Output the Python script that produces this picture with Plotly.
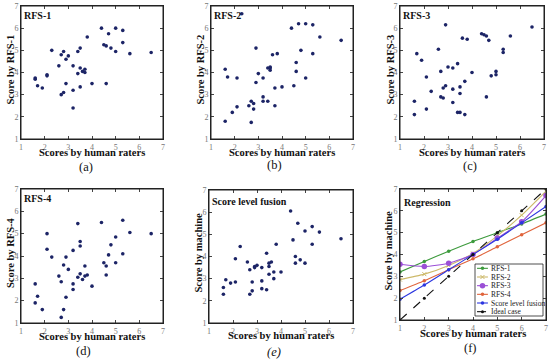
import plotly.graph_objects as go

# ---------------- data ----------------
human = [1.6, 1.6, 1.7, 1.9, 2.1, 2.1, 2.3, 2.6, 2.7, 2.7, 2.8, 2.8, 2.9, 2.9, 3.0,
         3.2, 3.2, 3.2, 3.4, 3.4, 3.5, 3.5, 3.5, 3.6, 3.7, 3.7, 3.8, 4.0, 4.4, 4.5,
         4.6, 4.6, 4.7, 4.8, 5.0, 5.0, 5.3, 5.3, 5.6, 6.5]
rfs1 = [3.7, 3.75, 3.4, 3.3, 3.9, 3.85, 5.0, 4.3, 4.8, 3.0, 4.95, 3.1, 4.6, 3.5, 4.75,
        4.3, 3.2, 2.4, 4.95, 3.95, 5.1, 4.2, 3.35, 4.05, 4.15, 4.0, 5.6, 3.5, 6.0, 5.25,
        5.2, 3.5, 5.75, 5.1, 6.0, 4.95, 5.9, 5.35, 4.85, 4.9]
rfs2 = [4.15, 1.8, 3.8, 2.2, 3.75, 2.45, 6.65, 2.5, 2.7, 1.75, 2.6, 2.35, 5.1, 3.55, 3.95,
        3.75, 2.9, 2.7, 4.2, 2.7, 4.25, 4.2, 4.1, 4.8, 3.3, 2.5, 4.85, 3.35, 6.0, 3.4,
        4.45, 4.05, 6.2, 5.0, 6.2, 3.75, 6.15, 4.85, 5.6, 5.45]
rfs3 = [2.7, 2.1, 4.85, 4.55, 3.8, 2.35, 3.15, 5.05, 4.05, 2.9, 3.3, 2.85, 6.15, 3.4, 4.25,
        4.2, 3.25, 2.65, 4.4, 2.2, 3.35, 3.05, 2.2, 5.55, 3.6, 2.1, 5.5, 4.0, 5.75, 5.7,
        5.65, 2.9, 5.45, 3.85, 4.05, 3.9, 5.05, 4.9, 5.65, 6.05]
rfs4 = [2.75, 1.9, 2.2, 1.6, 5.0, 4.3, 3.95, 3.1, 2.85, 1.25, 3.6, 1.6, 3.95, 2.15, 3.4,
        4.25, 2.75, 2.5, 5.45, 3.05, 4.65, 4.45, 3.2, 2.95, 3.55, 3.1, 3.15, 2.65, 5.5, 3.7,
        3.55, 3.15, 4.05, 4.5, 4.85, 3.7, 5.6, 4.1, 5.05, 5.0]
fusion = [2.6, 2.3, 2.95, 2.8, 3.9, 2.85, 4.45, 3.75, 3.4, 2.3, 2.85, 2.45, 3.55, 3.5, 3.6,
          3.5, 2.9, 2.55, 4.15, 2.5, 3.7, 3.55, 3.2, 3.75, 3.3, 3.0, 4.55, 3.3, 6.05, 4.75,
          4.0, 3.7, 5.5, 3.85, 5.15, 3.7, 5.35, 4.55, 5.1, 4.8]

levels = [1, 2, 3, 4, 5, 6, 7]
reg_rfs1 = [3.2, 3.68, 4.15, 4.6, 5.0, 5.4, 5.85]
reg_rfs2 = [2.85, 3.1, 3.5, 4.05, 4.85, 5.8, 6.9]
reg_rfs3 = [3.55, 3.45, 3.6, 4.0, 4.75, 5.5, 6.7]
reg_rfs4 = [2.35, 2.8, 3.3, 3.8, 4.35, 4.9, 5.45]
reg_fusion = [1.95, 2.6, 3.3, 4.0, 4.7, 5.45, 6.2]
ideal = [1, 2, 3, 4, 5, 6, 7]

tick_vals = [1, 2, 3, 4, 5, 6, 7]
panel_titles = ["RFS-1", "RFS-2", "RFS-3", "RFS-4", "Score level fusion", "Regression"]
y_titles = ["Score by RFS-1", "Score by RFS-2", "Score by RFS-3", "Score by RFS-4",
            "Score by machine", "Score by machine"]
x_title = "Scores by human raters"
captions = ["(a)", "(b)", "(c)", "(d)", "(e)", "(f)"]
reg_names = ["RFS-1", "RFS-2", "RFS-3", "RFS-4", "Score level fusion", "Ideal case"]

# ---------------- layout geometry (pixels) ----------------
W, H = 550, 361
boxes = [(21, 163, 6, 139), (211, 353, 6, 139), (400, 544, 6, 139),
         (21, 163, 189, 323), (209, 353, 190, 323), (400, 546, 189, 320)]
cap_pos = [(86, 167), (274, 165), (470, 166), (83, 351), (274, 352), (470, 348)]
xt_pos = [152, 152, 152, 336, 335, 333]
yt_pos = [10, 200, 390, 10, 198, 388]
title_off = [(1, 2), (1, 2), (1, 2), (1, 2), (1, 4), (2, 6)]

SERIF = "Liberation Serif, Times New Roman, serif"
DOT = "#1c2466"
FRAME = "#222222"

def px(x):
    return x / W

def py(y):
    return 1 - y / H

fig = go.Figure()
scatter_sets = [rfs1, rfs2, rfs3, rfs4, fusion]
for i, ys in enumerate(scatter_sets):
    n = "" if i == 0 else str(i + 1)
    fig.add_trace(go.Scatter(x=human, y=ys, mode="markers", xaxis="x" + n, yaxis="y" + n,
                             marker=dict(size=3.6, color=DOT), showlegend=False,
                             hoverinfo="x+y"))

reg_sets = [reg_rfs1, reg_rfs2, reg_rfs3, reg_rfs4, reg_fusion, ideal]
reg_colors = ["#3c9a3c", "#cdb96a", "#9b4fd6", "#e0643c", "#2b36e0", "#111111"]
reg_marker = [dict(size=3.5, symbol="circle"), dict(size=4, symbol="x-thin", line=dict(width=1, color="#cdb96a")),
              dict(size=5.5, symbol="circle"), dict(size=3.5, symbol="circle"),
              dict(size=3.5, symbol="circle"), dict(size=3, symbol="circle")]
for j, ys in enumerate(reg_sets):
    m = dict(reg_marker[j]); m["color"] = reg_colors[j]
    fig.add_trace(go.Scatter(x=levels, y=ys, mode="lines+markers", xaxis="x6", yaxis="y6",
                             line=dict(color=reg_colors[j], width=1.1,
                                       dash="dash" if j == 5 else "solid",
                                       shape="linear" if j == 5 else "spline", smoothing=0.6),
                             marker=m, name=reg_names[j], showlegend=False, cliponaxis=True))

# custom compact legend on an overlay axis (x7/y7)
leg = (475, 543, 264, 316)
for j, nm in enumerate(reg_names):
    yy = 5.5 - j
    m = dict(reg_marker[j]); m["color"] = reg_colors[j]
    fig.add_trace(go.Scatter(x=[0.03, 0.11, 0.19], y=[yy, yy, yy], mode="lines", xaxis="x7", yaxis="y7",
                             line=dict(color=reg_colors[j], width=1.1, dash="dash" if j == 5 else "solid"),
                             showlegend=False, hoverinfo="skip"))
    fig.add_trace(go.Scatter(x=[0.11], y=[yy], mode="markers", xaxis="x7", yaxis="y7",
                             marker=m, showlegend=False, hoverinfo="skip"))

axis_common = dict(range=[1, 7], tickvals=tick_vals, ticks="inside", ticklen=3, tickcolor="#444",
                   showline=True, linecolor=FRAME, linewidth=1, showgrid=False,
                   zeroline=False, automargin=False,
                   tickfont=dict(family=SERIF, size=8, color="#777"))

layout = dict(width=W, height=H, margin=dict(l=0, r=0, t=0, b=0, pad=0, autoexpand=False),
              paper_bgcolor="white", plot_bgcolor="white", showlegend=False)
annotations = []
shapes = []
for i, (l, r, t, b) in enumerate(boxes):
    n = "" if i == 0 else str(i + 1)
    layout["xaxis" + n] = dict(axis_common, domain=[px(l), px(r)], anchor="y" + n, mirror="ticks")
    layout["yaxis" + n] = dict(axis_common, domain=[py(b), py(t)], anchor="x" + n, mirror="ticks")
    shapes.append(dict(type="rect", xref="paper", yref="paper",
                       x0=px(l), x1=px(r), y0=py(b), y1=py(t),
                       line=dict(color=FRAME, width=1), layer="above"))
    dx, dy = title_off[i]
    annotations.append(dict(x=px(l + dx), y=py(t + dy), xref="paper", yref="paper", xanchor="left",
                            yanchor="top", showarrow=False, text="<b>%s</b>" % panel_titles[i],
                            font=dict(family=SERIF, size=10, color="#111")))
    annotations.append(dict(x=px((l + r) / 2), y=py(xt_pos[i]), xref="paper", yref="paper",
                            xanchor="center", yanchor="middle", showarrow=False,
                            text="<b>%s</b>" % x_title, font=dict(family=SERIF, size=10.5, color="#111")))
    annotations.append(dict(x=px(yt_pos[i]), y=py((t + b) / 2 - 3), xref="paper", yref="paper",
                            xanchor="center", yanchor="middle", showarrow=False, textangle=-90,
                            text="<b>%s</b>" % y_titles[i], font=dict(family=SERIF, size=10.5, color="#111")))
    cx, cy = cap_pos[i]
    ctext = "<i>%s</i>" % captions[i] if i == 4 else captions[i]
    annotations.append(dict(x=px(cx), y=py(cy), xref="paper", yref="paper", xanchor="center",
                            yanchor="middle", showarrow=False, text=ctext,
                            font=dict(family=SERIF, size=12.5, color="#111")))

layout["xaxis7"] = dict(domain=[px(leg[0]), px(leg[1])], range=[0, 1], anchor="y7", showline=False,
                        showticklabels=False, ticks="", showgrid=False, zeroline=False, automargin=False)
layout["yaxis7"] = dict(domain=[py(leg[3]), py(leg[2])], range=[0, 6], anchor="x7", showline=False,
                        showticklabels=False, ticks="", showgrid=False, zeroline=False, automargin=False)
shapes.append(dict(type="rect", xref="paper", yref="paper", x0=px(leg[0]), x1=px(leg[1]),
                   y0=py(leg[3]), y1=py(leg[2]), line=dict(color="#222", width=0.8), layer="above"))
for j, nm in enumerate(reg_names):
    annotations.append(dict(x=0.205, y=5.5 - j, xref="x7", yref="y7", xanchor="left", yanchor="middle",
                            showarrow=False, text=nm, font=dict(family=SERIF, size=7.5, color="#222")))
layout["annotations"] = annotations
layout["shapes"] = shapes
fig.update_layout(**layout)
fig.write_html("out.html", config={"displayModeBar": False},
               post_script="document.body.style.margin='0';document.body.style.overflow='hidden';")
